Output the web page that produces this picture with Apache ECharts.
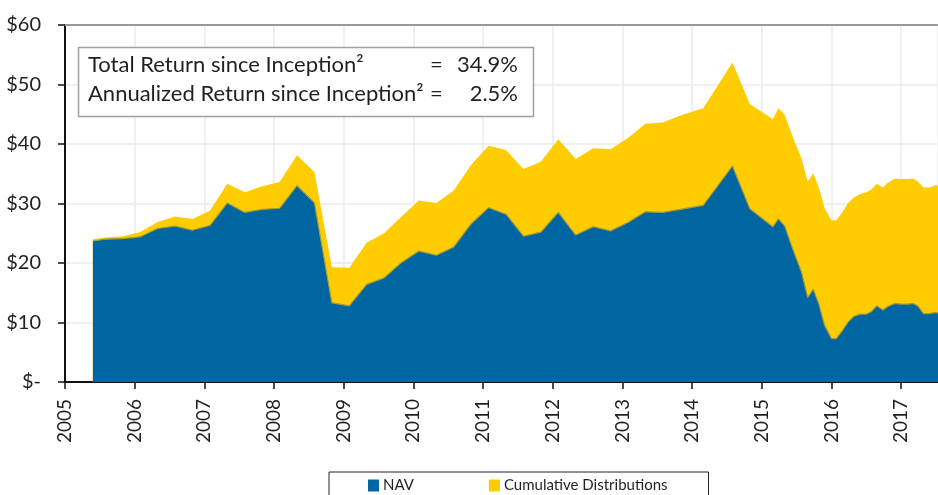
<!DOCTYPE html>
<html lang="en">
<head>
    <meta charset="UTF-8">
    <title>NAV and Cumulative Distributions</title>
    <style>
        html, body { margin: 0; padding: 0; background: #fff; }
        #main { width: 938px; height: 495px; }
    </style>
    <script src="https://cdn.jsdelivr.net/npm/echarts@6/dist/echarts.min.js"></script>
</head>
<body>

<div id="main"></div>

<script>

    // time of each point, in decimal years
    var years = [
        2005.40, 2005.58, 2005.83, 2006.08, 2006.33, 2006.58, 2006.83, 2007.08,
        2007.33, 2007.58, 2007.83, 2008.08, 2008.33, 2008.58, 2008.83, 2009.08,
        2009.33, 2009.58, 2009.83, 2010.08, 2010.33, 2010.58, 2010.83, 2011.08,
        2011.33, 2011.58, 2011.83, 2012.08, 2012.33, 2012.58, 2012.83, 2013.08,
        2013.33, 2013.58, 2013.83, 2014.16, 2014.58, 2014.83, 2015.16, 2015.24,
        2015.33, 2015.45, 2015.57, 2015.66, 2015.74, 2015.82, 2015.90, 2016.00,
        2016.07, 2016.15, 2016.24, 2016.32, 2016.41, 2016.50, 2016.57, 2016.65,
        2016.74, 2016.81, 2016.91, 2017.00, 2017.10, 2017.17, 2017.24, 2017.32,
        2017.41, 2017.50, 2017.53
    ];

    // NAV per share ($)
    var nav = [
        23.7, 24.0, 24.1, 24.4, 25.8, 26.2, 25.5, 26.3,
        30.1, 28.5, 29.0, 29.2, 33.0, 30.1, 13.3, 12.8,
        16.4, 17.5, 20.1, 22.0, 21.3, 22.7, 26.6, 29.3,
        28.2, 24.5, 25.2, 28.5, 24.7, 26.1, 25.4, 26.8,
        28.6, 28.5, 29.0, 29.7, 36.3, 29.1, 26.1, 27.4,
        26.2, 22.2, 18.5, 14.2, 15.6, 13.1, 9.6, 7.3,
        7.3, 8.5, 10.1, 11.0, 11.4, 11.4, 11.8, 12.8,
        12.1, 12.7, 13.2, 13.1, 13.1, 13.2, 12.8, 11.5,
        11.5, 11.7, 11.6
    ];

    // cumulative distributions paid ($), stacked on NAV
    var dist = [
        0.3, 0.3, 0.4, 0.8, 1.1, 1.6, 1.9, 2.5,
        3.2, 3.4, 3.9, 4.4, 5.1, 5.2, 6.0, 6.4,
        7.0, 7.5, 7.7, 8.5, 8.8, 9.5, 9.9, 10.4,
        10.8, 11.3, 11.8, 12.3, 12.8, 13.2, 13.7, 14.2,
        14.8, 15.1, 15.8, 16.3, 17.4, 17.6, 18.1, 18.6,
        18.7, 18.8, 19.1, 19.4, 19.5, 19.6, 19.7, 19.9,
        19.9, 19.9, 20.0, 20.0, 20.2, 20.5, 20.5, 20.5,
        20.6, 20.8, 21.0, 21.0, 21.0, 21.0, 20.9, 21.2,
        21.2, 21.4, 21.4
    ];

    var yTicks = [0, 10, 20, 30, 40, 50, 60];
    var seriesNames = ['NAV', 'Cumulative Distributions'];

    var blue = '#0066a1';
    var yellow = '#ffcc00';
    var font = 'Lato';

    var navData = [];
    var totalData = [];
    for (var i = 0; i < years.length; i++) {
        navData.push([years[i], nav[i]]);
        totalData.push([years[i], +(nav[i] + dist[i]).toFixed(2)]);
    }

    var chartDom = document.getElementById('main');
    var myChart = echarts.init(chartDom);

    var option = {
        animation: false,
        grid: { left: 65, right: 0, top: 25, bottom: 113 },
        legend: {
            data: seriesNames,
            left: 329,
            top: 472,
            icon: 'rect',
            itemWidth: 11,
            itemHeight: 12,
            itemGap: 75,
            padding: [6, 41, 12, 39],
            borderColor: '#222',
            borderWidth: 1,
            textStyle: { fontFamily: font, fontSize: 15, color: '#231f20', padding: [0, 0, 0, -1] }
        },
        xAxis: [{
            type: 'value',
            min: 2005,
            max: 2017.53,
            interval: 1,
            axisLine: { lineStyle: { color: '#111', width: 2 } },
            axisTick: { length: 7, lineStyle: { color: '#111', width: 1.5 } },
            splitLine: { show: true, lineStyle: { color: '#ebebeb', width: 1.5 } },
            axisLabel: {
                rotate: 90,
                margin: 17,
                fontFamily: font,
                fontSize: 19,
                color: '#231f20',
                showMaxLabel: false,
                formatter: function (v) {
                    return Math.abs(v - Math.round(v)) < 1e-6 ? String(Math.round(v)) : '';
                }
            }
        }, {
            type: 'value',
            position: 'top',
            min: 2005,
            max: 2017.53,
            axisLine: { show: true, lineStyle: { color: '#9a9a9a', width: 2 } },
            axisTick: { show: false },
            axisLabel: { show: false },
            splitLine: { show: false }
        }],
        yAxis: {
            type: 'value',
            min: yTicks[0],
            max: yTicks[yTicks.length - 1],
            interval: 10,
            axisLine: { show: true, lineStyle: { color: '#111', width: 2 } },
            axisTick: { show: true, length: 7, lineStyle: { color: '#111', width: 1.5 } },
            splitLine: { show: true, lineStyle: { color: '#ebebeb', width: 1.5 } },
            axisLabel: {
                margin: 24,
                fontFamily: font,
                fontSize: 20,
                color: '#231f20',
                formatter: function (v) { return v === 0 ? '$-' : '$' + v; }
            }
        },
        series: [{
            name: seriesNames[1],
            type: 'line',
            data: totalData,
            symbol: 'none',
            z: 2,
            itemStyle: { color: yellow },
            lineStyle: { width: 0 },
            areaStyle: { color: yellow, opacity: 1 }
        }, {
            name: seriesNames[0],
            type: 'line',
            data: navData,
            symbol: 'none',
            z: 3,
            itemStyle: { color: blue },
            lineStyle: { width: 1.2, color: '#a39a3c' },
            areaStyle: { color: blue, opacity: 1 }
        }],
        graphic: [{
            type: 'rect',
            z: 100,
            shape: { x: 78.5, y: 47.5, width: 455, height: 69 },
            style: { fill: '#fff', stroke: '#a0a0a0', lineWidth: 1.5 }
        }, {
            type: 'text', z: 101, left: 88, top: 54,
            style: { text: 'Total Return since Inception²', fontFamily: font, fontSize: 22, fill: '#231f20' }
        }, {
            type: 'text', z: 101, left: 88, top: 83,
            style: { text: 'Annualized Return since Inception²', fontFamily: font, fontSize: 22, fill: '#231f20' }
        }, {
            type: 'text', z: 101, left: 430, top: 54,
            style: { text: '=', fontFamily: font, fontSize: 22, fill: '#231f20' }
        }, {
            type: 'text', z: 101, left: 430, top: 83,
            style: { text: '=', fontFamily: font, fontSize: 22, fill: '#231f20' }
        }, {
            type: 'text', z: 101, right: 420, top: 54,
            style: { text: '34.9%', fontFamily: font, fontSize: 22, fill: '#231f20' }
        }, {
            type: 'text', z: 101, right: 420, top: 83,
            style: { text: '2.5%', fontFamily: font, fontSize: 22, fill: '#231f20' }
        }]
    };

    myChart.setOption(option);

</script>

</body>
</html>
